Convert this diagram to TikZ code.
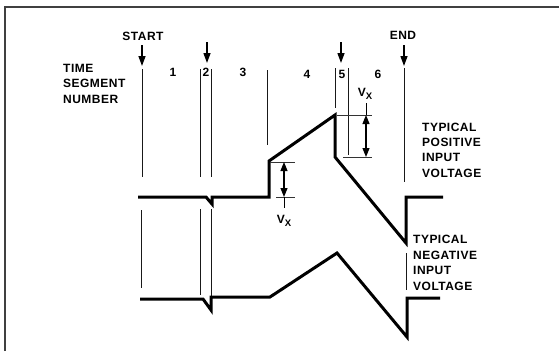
\documentclass[tikz,border=0pt]{standalone}
\usepackage{fontspec}
\setmainfont{Liberation Sans}[LetterSpace=4]
\usetikzlibrary{arrows.meta}
\begin{document}
\begin{tikzpicture}[x=1pt,y=-1pt,
  lbl/.style={font=\fontsize{12}{14}\selectfont\bfseries,inner sep=0pt,anchor=west},
  num/.style={font=\fontsize{12}{14}\selectfont\bfseries,inner sep=0pt},
  frameline/.style={line width=1.1pt,black!75},
  seg/.style={line width=0.9pt,black!90},
  wave/.style={line width=3pt,line join=miter,line cap=butt},
  marker/.style={line width=1.3pt,-{Triangle[length=10pt,width=7pt]}},
  tick/.style={line width=0.6pt,black!80},
  dimarrow/.style={line width=1.1pt,-{Triangle[length=9pt,width=7pt]}}]
\useasboundingbox (0,0) rectangle (559,351);
% frame
\draw[frameline] (5,351) -- (5,7) -- (559,7);
% header texts
\node[num] (start) at (143,36) {START};
\node[num] (end) at (403,35) {END};
\node[lbl] (t1) at (63,68) {TIME};
\node[lbl] (t2) at (63,83.5) {SEGMENT};
\node[lbl] (t3) at (63,99) {NUMBER};
\node[num] (n1) at (173,72) {1};
\node[num] (n2) at (206,72) {2};
\node[num] (n3) at (243,72) {3};
\node[num] (n4) at (307,74) {4};
\node[num] (n5) at (342,74) {5};
\node[num] (n6) at (378,74) {6};
% marker arrows
\coordinate (a1s) at (142,45); \coordinate (a1e) at (142,66);
\coordinate (a2s) at (207,42); \coordinate (a2e) at (207,63);
\coordinate (a5s) at (341,42); \coordinate (a5e) at (341,63);
\coordinate (a6s) at (404,45); \coordinate (a6e) at (404,66);
\draw[marker] (a1s) -- (a1e);
\draw[marker] (a2s) -- (a2e);
\draw[marker] (a5s) -- (a5e);
\draw[marker] (a6s) -- (a6e);
% segment boundary lines, upper
\draw[seg] (142,69) -- (142,177);
\draw[seg] (200,69) -- (200,177);
\draw[seg] (211,69) -- (211,177);
\draw[seg] (267,70) -- (267,145);
\draw[seg] (335,68) -- (335,108);
\draw[seg] (348,68) -- (348,155);
\draw[seg] (404,68) -- (404,182);
% segment boundary lines, lower
\draw[seg] (141,210) -- (141,288);
\draw[seg] (200,209) -- (200,295);
\draw[seg] (211,209) -- (211,297);
\draw[seg] (406,253) -- (406,290);
% positive waveform
\draw[wave] (138,197) -- (206,197) -- (212,204) -- (212,197) -- (269,197)
  -- (269,161) -- (335,115) -- (335,157) -- (406,243) -- (406,197) -- (443,197);
% negative waveform
\draw[wave] (140,299) -- (203,299) -- (211,310) -- (211,297) -- (270,297)
  -- (337,253) -- (407,337) -- (407,298) -- (440,298);
% Vx dimension left
\draw[tick] (270,162) -- (295,162);
\draw[tick] (276,197) -- (295,197);
\coordinate (vlm) at (284,180);
\coordinate (vlt) at (284,162);
\coordinate (vlb) at (284,197);
\draw[line width=0.8pt] (vlb) -- (284,208);
\draw[dimarrow] (vlm) -- (vlt);
\draw[dimarrow] (vlm) -- (vlb);
\node[num] (vxl) at (284,221) {V\raisebox{-2.5pt}{\fontsize{9.5}{10}\selectfont X}};
% Vx dimension right
\draw[tick] (337,115) -- (372,115);
\draw[tick] (343,157) -- (372,157);
\coordinate (vrm) at (366,137);
\coordinate (vrt) at (366,115);
\coordinate (vrb) at (366,157);
\draw[line width=0.8pt] (366,103) -- (vrt);
\draw[dimarrow] (vrm) -- (vrt);
\draw[dimarrow] (vrm) -- (vrb);
\node[num] (vxr) at (365,94) {V\raisebox{-2.5pt}{\fontsize{9.5}{10}\selectfont X}};
% side labels
\node[lbl] (p1) at (422,127) {TYPICAL};
\node[lbl] (p2) at (422,142) {POSITIVE};
\node[lbl] (p3) at (422,157.5) {INPUT};
\node[lbl] (p4) at (422,173) {VOLTAGE};
\node[lbl] (m1) at (413,239) {TYPICAL};
\node[lbl] (m2) at (413,255) {NEGATIVE};
\node[lbl] (m3) at (413,270.5) {INPUT};
\node[lbl] (m4) at (413,286) {VOLTAGE};
\end{tikzpicture}
\end{document}
